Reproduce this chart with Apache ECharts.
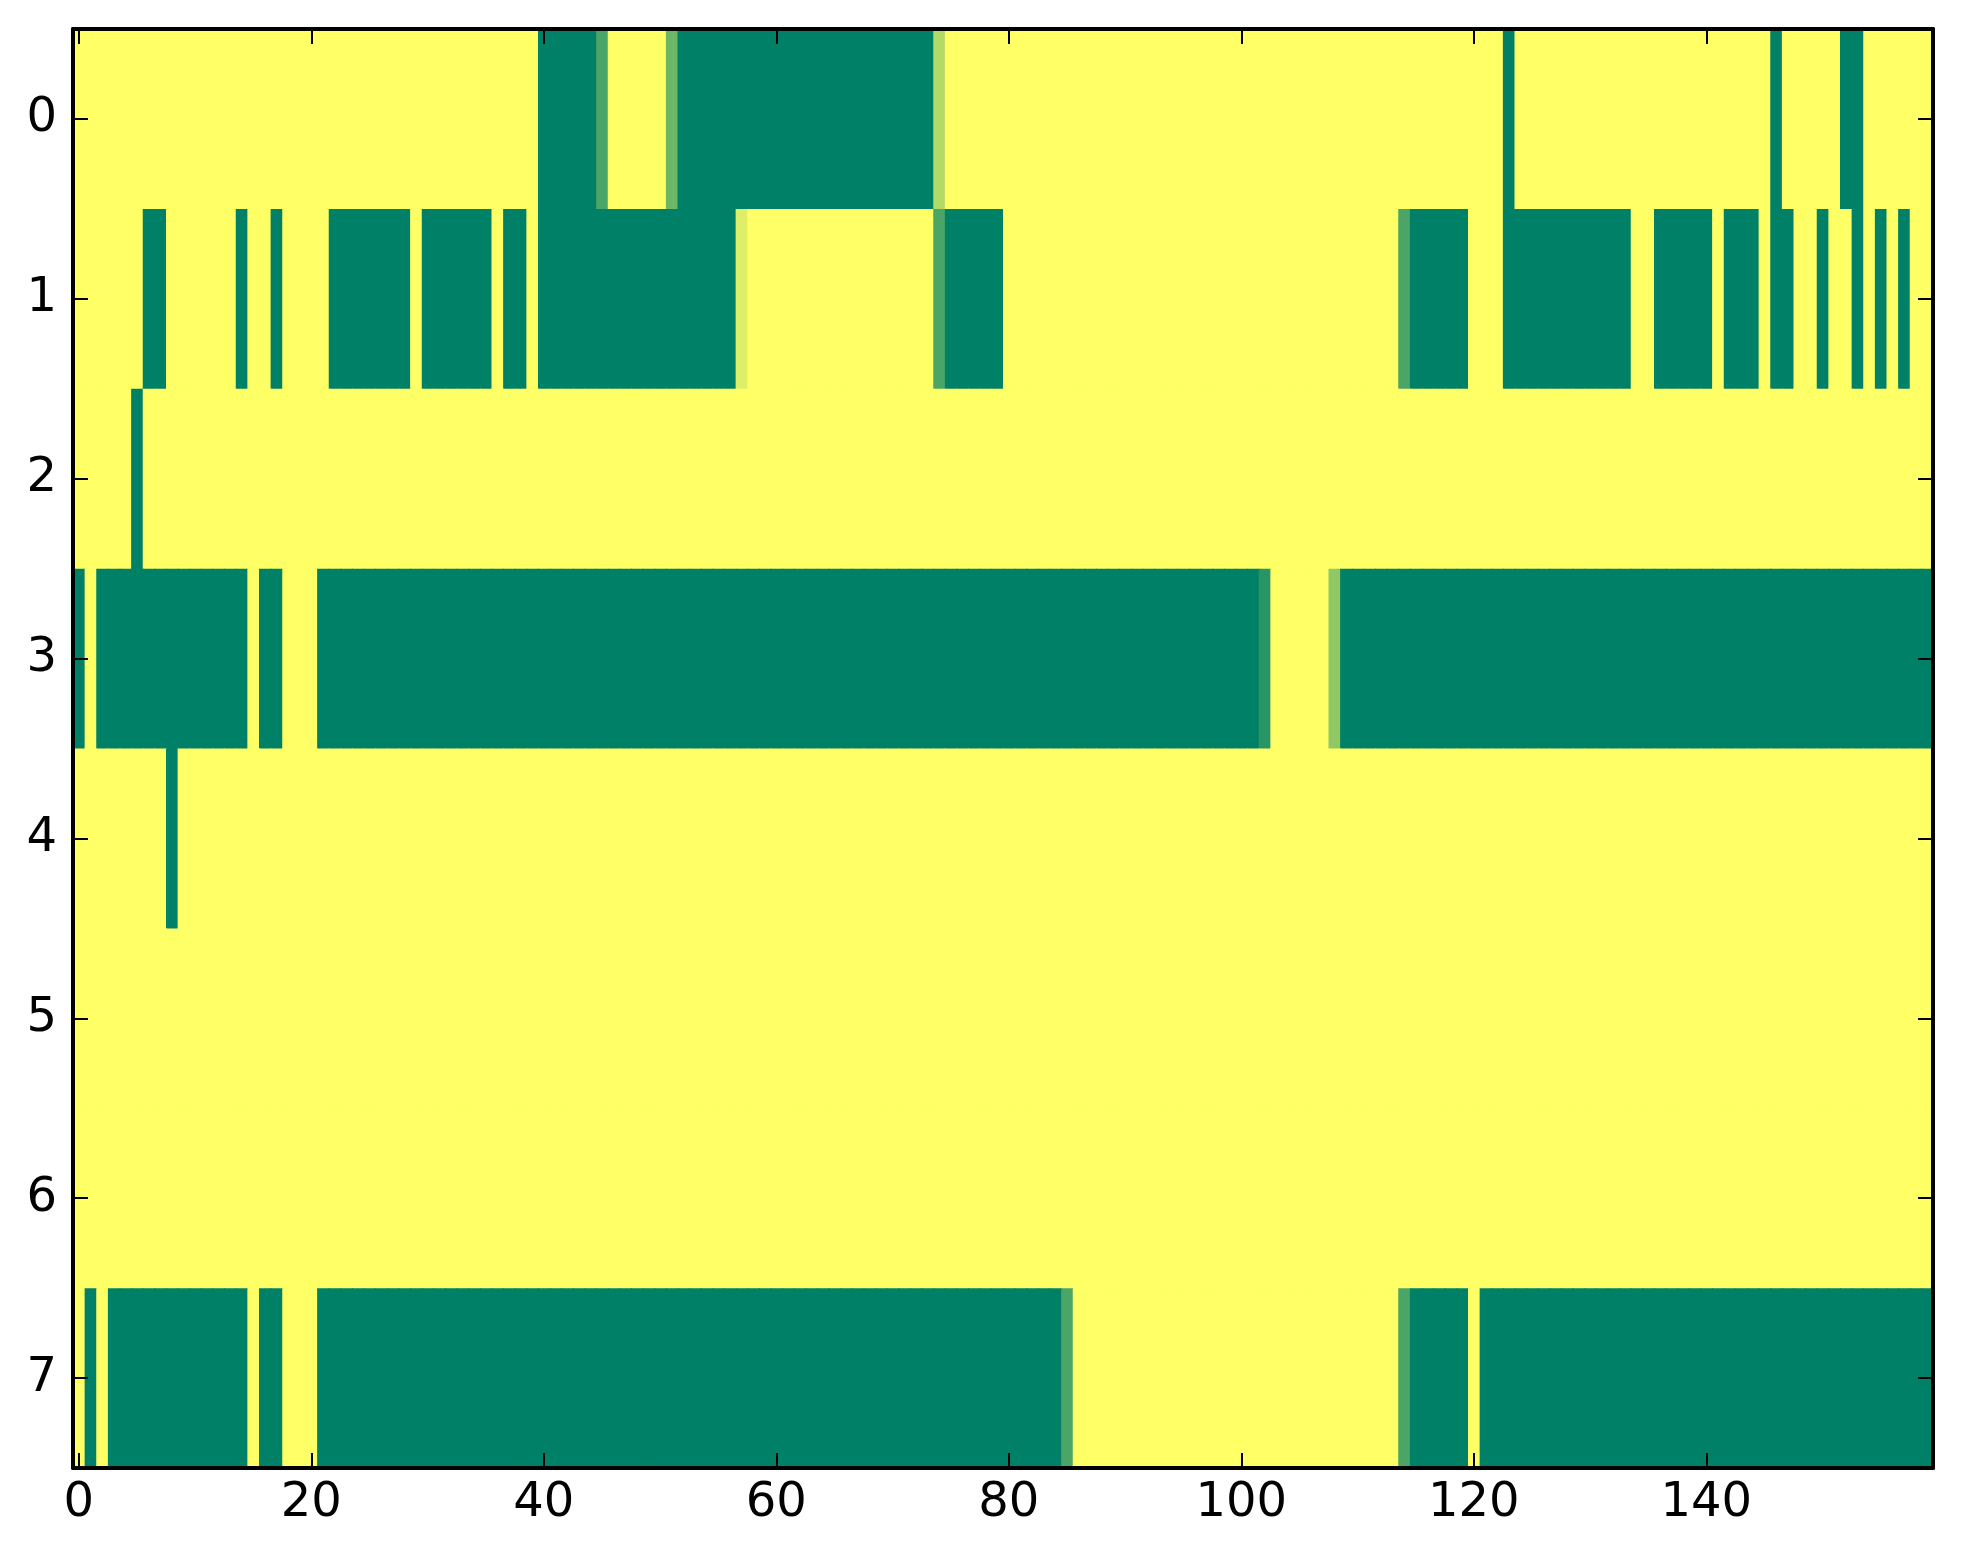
<!DOCTYPE html>
<html>
<head>
<meta charset="utf-8">
<script src="https://cdn.jsdelivr.net/npm/echarts@6/dist/echarts.min.js"></script>
<style>
html,body{margin:0;padding:0;background:#fff;}
#chart{width:1963px;height:1564px;}
</style>
</head>
<body>
<div id="chart"></div>
<script>
// 8 rows x 160 columns; 1 = yellow, 0 = green (matplotlib "summer" colormap)
const row0 = [
1,1,1,1,1,1,1,1,1,1,1,1,1,1,1,1,1,1,1,1,
1,1,1,1,1,1,1,1,1,1,1,1,1,1,1,1,1,1,1,1,
0,0,0,0,0,0.29,1,1,1,1,1,0.43,0,0,0,0,0,0,0,0,
0,0,0,0,0,0,0,0,0,0,0,0,0,0,0.7,1,1,1,1,1,
1,1,1,1,1,1,1,1,1,1,1,1,1,1,1,1,1,1,1,1,
1,1,1,1,1,1,1,1,1,1,1,1,1,1,1,1,1,1,1,1,
1,1,1,0,1,1,1,1,1,1,1,1,1,1,1,1,1,1,1,1,
1,1,1,1,1,1,0,1,1,1,1,1,0,0,1,1,1,1,1,1
];
const row1 = [
1,1,1,1,1,1,0,0,1,1,1,1,1,1,0,1,1,0,1,1,
1,1,0,0,0,0,0,0,0,1,0,0,0,0,0,0,1,0,0,1,
0,0,0,0,0,0,0,0,0,0,0,0,0,0,0,0,0,0.87,1,1,
1,1,1,1,1,1,1,1,1,1,1,1,1,1,0.29,0,0,0,0,0,
1,1,1,1,1,1,1,1,1,1,1,1,1,1,1,1,1,1,1,1,
1,1,1,1,1,1,1,1,1,1,1,1,1,1,0.29,0,0,0,0,0,
1,1,1,0,0,0,0,0,0,0,0,0,0,0,1,1,0,0,0,0,
0,1,0,0,0,1,0,0,1,1,0,1,1,0,1,0,1,0,1,1
];
const row2 = [
1,1,1,1,1,0,1,1,1,1,1,1,1,1,1,1,1,1,1,1,
1,1,1,1,1,1,1,1,1,1,1,1,1,1,1,1,1,1,1,1,
1,1,1,1,1,1,1,1,1,1,1,1,1,1,1,1,1,1,1,1,
1,1,1,1,1,1,1,1,1,1,1,1,1,1,1,1,1,1,1,1,
1,1,1,1,1,1,1,1,1,1,1,1,1,1,1,1,1,1,1,1,
1,1,1,1,1,1,1,1,1,1,1,1,1,1,1,1,1,1,1,1,
1,1,1,1,1,1,1,1,1,1,1,1,1,1,1,1,1,1,1,1,
1,1,1,1,1,1,1,1,1,1,1,1,1,1,1,1,1,1,1,1
];
const row3 = [
0,1,0,0,0,0,0,0,0,0,0,0,0,0,0,1,0,0,1,1,
1,0,0,0,0,0,0,0,0,0,0,0,0,0,0,0,0,0,0,0,
0,0,0,0,0,0,0,0,0,0,0,0,0,0,0,0,0,0,0,0,
0,0,0,0,0,0,0,0,0,0,0,0,0,0,0,0,0,0,0,0,
0,0,0,0,0,0,0,0,0,0,0,0,0,0,0,0,0,0,0,0,
0,0,0.16,1,1,1,1,1,0.57,0,0,0,0,0,0,0,0,0,0,0,
0,0,0,0,0,0,0,0,0,0,0,0,0,0,0,0,0,0,0,0,
0,0,0,0,0,0,0,0,0,0,0,0,0,0,0,0,0,0,0,0
];
const row4 = [
1,1,1,1,1,1,1,1,0,1,1,1,1,1,1,1,1,1,1,1,
1,1,1,1,1,1,1,1,1,1,1,1,1,1,1,1,1,1,1,1,
1,1,1,1,1,1,1,1,1,1,1,1,1,1,1,1,1,1,1,1,
1,1,1,1,1,1,1,1,1,1,1,1,1,1,1,1,1,1,1,1,
1,1,1,1,1,1,1,1,1,1,1,1,1,1,1,1,1,1,1,1,
1,1,1,1,1,1,1,1,1,1,1,1,1,1,1,1,1,1,1,1,
1,1,1,1,1,1,1,1,1,1,1,1,1,1,1,1,1,1,1,1,
1,1,1,1,1,1,1,1,1,1,1,1,1,1,1,1,1,1,1,1
];
const row5 = [
1,1,1,1,1,1,1,1,1,1,1,1,1,1,1,1,1,1,1,1,
1,1,1,1,1,1,1,1,1,1,1,1,1,1,1,1,1,1,1,1,
1,1,1,1,1,1,1,1,1,1,1,1,1,1,1,1,1,1,1,1,
1,1,1,1,1,1,1,1,1,1,1,1,1,1,1,1,1,1,1,1,
1,1,1,1,1,1,1,1,1,1,1,1,1,1,1,1,1,1,1,1,
1,1,1,1,1,1,1,1,1,1,1,1,1,1,1,1,1,1,1,1,
1,1,1,1,1,1,1,1,1,1,1,1,1,1,1,1,1,1,1,1,
1,1,1,1,1,1,1,1,1,1,1,1,1,1,1,1,1,1,1,1
];
const row6 = [
1,1,1,1,1,1,1,1,1,1,1,1,1,1,1,1,1,1,1,1,
1,1,1,1,1,1,1,1,1,1,1,1,1,1,1,1,1,1,1,1,
1,1,1,1,1,1,1,1,1,1,1,1,1,1,1,1,1,1,1,1,
1,1,1,1,1,1,1,1,1,1,1,1,1,1,1,1,1,1,1,1,
1,1,1,1,1,1,1,1,1,1,1,1,1,1,1,1,1,1,1,1,
1,1,1,1,1,1,1,1,1,1,1,1,1,1,1,1,1,1,1,1,
1,1,1,1,1,1,1,1,1,1,1,1,1,1,1,1,1,1,1,1,
1,1,1,1,1,1,1,1,1,1,1,1,1,1,1,1,1,1,1,1
];
const row7 = [
1,0,1,0,0,0,0,0,0,0,0,0,0,0,0,1,0,0,1,1,
1,0,0,0,0,0,0,0,0,0,0,0,0,0,0,0,0,0,0,0,
0,0,0,0,0,0,0,0,0,0,0,0,0,0,0,0,0,0,0,0,
0,0,0,0,0,0,0,0,0,0,0,0,0,0,0,0,0,0,0,0,
0,0,0,0,0,0.29,1,1,1,1,1,1,1,1,1,1,1,1,1,1,
1,1,1,1,1,1,1,1,1,1,1,1,1,1,0.29,0,0,0,0,0,
1,0,0,0,0,0,0,0,0,0,0,0,0,0,0,0,0,0,0,0,
0,0,0,0,0,0,0,0,0,0,0,0,0,0,0,0,0,0,0,0
];
const rows = [row0, row1, row2, row3, row4, row5, row6, row7];
const rowLabels = ['0','1','2','3','4','5','6','7'];
const columns = Array.from({length: 160}, (_, i) => String(i));
const xTickLabels = ['0','20','40','60','80','100','120','140'];
const summerColors = ['#008066', '#ffff66'];

const data = [];
rows.forEach((r, ri) => r.forEach((v, ci) => data.push([ci, ri, v])));

const chart = echarts.init(document.getElementById('chart'), null, {renderer: 'canvas'});
const xTickFn = (i, v) => xTickLabels.indexOf(String(v)) >= 0;
const font = 'DejaVu Sans';
const lineCol = '#000';

function xAx(pos, showLabel) {
  return {
    type: 'category', data: columns, position: pos, z: 10,
    boundaryGap: true,
    axisLine: {show: true, onZero: false, lineStyle: {color: lineCol, width: 4}},
    axisTick: {show: true, inside: true, length: 15, alignWithLabel: true, interval: xTickFn,
      lineStyle: {color: lineCol, width: 2}},
    axisLabel: {show: showLabel, interval: xTickFn, margin: 12, color: '#000',
      fontFamily: font, fontSize: 48},
    splitLine: {show: false}
  };
}
function yAx(pos, showLabel) {
  return {
    type: 'category', data: rowLabels, position: pos, inverse: true, z: 10,
    boundaryGap: true,
    axisLine: {show: true, onZero: false, lineStyle: {color: lineCol, width: 4}},
    axisTick: {show: true, inside: true, length: 15, alignWithLabel: true, interval: 0,
      lineStyle: {color: lineCol, width: 2}},
    axisLabel: {show: showLabel, interval: 0, margin: 16, color: '#000',
      fontFamily: font, fontSize: 48},
    splitLine: {show: false}
  };
}

chart.setOption({
  backgroundColor: '#ffffff',
  animation: false,
  grid: {left: 73, right: 30, top: 29, bottom: 96, containLabel: false},
  xAxis: [xAx('bottom', true), xAx('top', false)],
  yAxis: [yAx('left', true), yAx('right', false)],
  visualMap: {show: false, min: 0, max: 1, dimension: 2, calculable: false,
    seriesIndex: 0, inRange: {color: summerColors}},
  series: [{
    type: 'custom', xAxisIndex: 0, yAxisIndex: 0,
    encode: {x: 0, y: 1},
    data: data,
    clip: true,
    renderItem: function (params, api) {
      const c = api.coord([api.value(0), api.value(1)]);
      const s = api.size([1, 1]);
      return {
        type: 'rect',
        shape: {x: c[0] - s[0] / 2, y: c[1] - s[1] / 2, width: s[0] + 1, height: s[1] + 1},
        style: {fill: api.visual('color'), stroke: null}
      };
    }
  }]
});
</script>
</body>
</html>
